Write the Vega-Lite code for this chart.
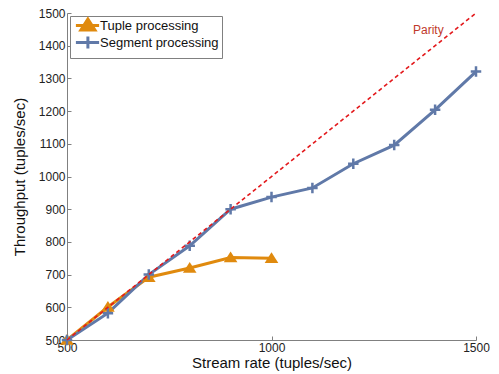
{
  "$schema": "https://vega.github.io/schema/vega-lite/v6.json",
  "width": 409,
  "height": 327,
  "autosize": "none",
  "padding": {"left": 67, "top": 13, "right": 23, "bottom": 34},
  "background": "white",
  "config": {
    "view": {"stroke": null},
    "font": "Liberation Sans",
    "axis": {
      "grid": false,
      "domainColor": "#808080",
      "tickColor": "#808080",
      "tickSize": -4,
      "labelFontSize": 12,
      "labelColor": "#222222",
      "labelFlush": false,
      "labelOverlap": false,
      "format": "d",
      "titleFontSize": 15,
      "titleFontWeight": "normal",
      "titleColor": "#111111"
    },
    "legend": {
      "title": null,
      "orient": "top-left",
      "offset": 3,
      "padding": 3,
      "strokeColor": "#808080",
      "fillColor": "white",
      "labelFontSize": 13,
      "labelColor": "#111111",
      "symbolSize": 64,
      "symbolStrokeWidth": 3,
      "labelOffset": 14,
      "rowPadding": -6
    }
  },
  "datasets": {
    "series": [
      {"series": "Tuple processing", "rate": 500, "throughput": 500},
      {"series": "Tuple processing", "rate": 600, "throughput": 601},
      {"series": "Tuple processing", "rate": 700, "throughput": 692},
      {"series": "Tuple processing", "rate": 800, "throughput": 720},
      {"series": "Tuple processing", "rate": 900, "throughput": 752},
      {"series": "Tuple processing", "rate": 1000, "throughput": 750},
      {"series": "Segment processing", "rate": 500, "throughput": 500},
      {"series": "Segment processing", "rate": 600, "throughput": 582},
      {"series": "Segment processing", "rate": 700, "throughput": 700},
      {"series": "Segment processing", "rate": 800, "throughput": 788},
      {"series": "Segment processing", "rate": 900, "throughput": 900},
      {"series": "Segment processing", "rate": 1000, "throughput": 937},
      {"series": "Segment processing", "rate": 1100, "throughput": 965},
      {"series": "Segment processing", "rate": 1200, "throughput": 1039},
      {"series": "Segment processing", "rate": 1300, "throughput": 1096},
      {"series": "Segment processing", "rate": 1400, "throughput": 1204},
      {"series": "Segment processing", "rate": 1500, "throughput": 1321}
    ],
    "parity": [
      {"rate": 500, "throughput": 500},
      {"rate": 1500, "throughput": 1500}
    ],
    "parityLabel": [
      {"label": "Parity", "rate": 1346, "throughput": 1448}
    ]
  },
  "encoding": {
    "x": {
      "field": "rate", "type": "quantitative",
      "scale": {"domain": [500, 1500], "nice": false, "zero": false},
      "axis": {"values": [500, 1000, 1500], "title": "Stream rate (tuples/sec)", "labelPadding": 6, "titlePadding": 2, "labelFlush": false, "labelOverlap": false}
    },
    "y": {
      "field": "throughput", "type": "quantitative",
      "scale": {"domain": [500, 1500], "nice": false, "zero": false},
      "axis": {"values": [500, 600, 700, 800, 900, 1000, 1100, 1200, 1300, 1400, 1500], "title": "Throughput (tuples/sec)", "labelPadding": 6, "titlePadding": 11, "labelOverlap": false, "labelFlush": false}
    }
  },
  "layer": [
    {
      "data": {"name": "series"},
      "mark": {"type": "line", "strokeWidth": 3},
      "encoding": {
        "color": {
          "field": "series", "type": "nominal",
          "scale": {"domain": ["Tuple processing", "Segment processing"], "range": ["#e08a0e", "#6079a8"]},
          "legend": {
            "encode": {
              "symbols": {
                "update": {
                  "shape": {"signal": "datum.value === 'Tuple processing' ? 'M-0.9,0H4.9M2.1,-1.6L3.85,1.1L0.35,1.1Z' : 'M-0.9,0H4.9M2.1,-1.5V1.5'"},
                  "fill": {"signal": "scale('color', datum.value)"},
                  "strokeWidth": {"value": 3}
                }
              }
            }
          }
        }
      }
    },
    {
      "data": {"name": "series"},
      "transform": [{"filter": "datum.series === 'Tuple processing'"}],
      "mark": {"type": "point", "filled": true, "shape": "M0,-1.15L1.3,0.9L-1.3,0.9Z", "color": "#e08a0e", "size": 110, "opacity": 1},
      "encoding": {}
    },
    {
      "data": {"name": "series"},
      "transform": [{"filter": "datum.series === 'Segment processing'"}],
      "mark": {"type": "point", "filled": false, "shape": "M-1,0H1M0,-1V1", "color": "#6079a8", "strokeWidth": 2.5, "size": 110, "opacity": 1},
      "encoding": {}
    },
    {
      "data": {"name": "parity"},
      "mark": {"type": "line", "color": "#e3191c", "strokeWidth": 1.6, "strokeDash": [4, 3]},
      "encoding": {}
    },
    {
      "data": {"name": "parityLabel"},
      "mark": {"type": "text", "color": "#c0392b", "fontSize": 12, "align": "left", "baseline": "middle"},
      "encoding": {
        "text": {"field": "label"}
      }
    }
  ]
}
